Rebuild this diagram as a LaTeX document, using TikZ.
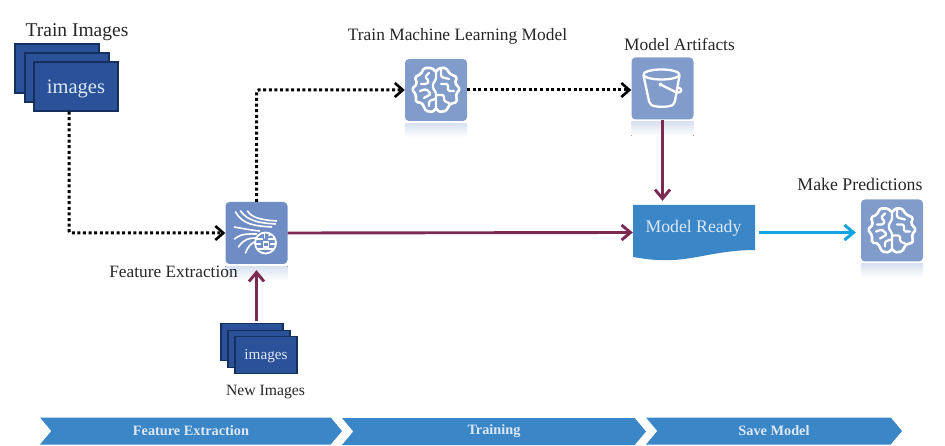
\documentclass[tikz,border=0pt]{standalone}
\usepackage{fontspec}
\setmainfont{Liberation Serif}
\usetikzlibrary{arrows.meta,shapes.symbols}

\definecolor{stackblue}{HTML}{2B5299}
\definecolor{stackedge}{HTML}{14305E}
\definecolor{iconblue}{HTML}{819CCB}
\definecolor{featblue}{HTML}{6F8DC4}
\definecolor{readyblue}{HTML}{3B86C6}
\definecolor{maroon}{HTML}{7B2A52}
\definecolor{skyline}{HTML}{12A4E0}
\definecolor{lighttext}{HTML}{DDE8F6}

\tikzset{
    stackbox/.style={draw=stackedge,fill=stackblue,line width=1.3pt,inner sep=0pt},
    iconbox/.style={fill=#1,rounded corners=4pt,minimum width=62pt,minimum height=62pt,inner sep=0pt},
    iconshade/.style={top color=iconblue!30!white,bottom color=white,draw=none},
    glyph/.style={draw=white,line width=2.3pt,line join=round,line cap=round},
    dotline/.style={line width=3pt,dash pattern=on 3pt off 2.6pt,-{Straight Barb[length=8pt,width=14pt,line width=2.6pt]}},
    redline/.style={maroon,line width=2.9pt,-{Straight Barb[length=9pt,width=15pt,line width=2.9pt]}},
    blueline/.style={skyline,line width=3pt,-{Straight Barb[length=9pt,width=15pt,line width=3pt]}},
    phase/.style={shape=signal,signal from=west,signal to=east,signal pointer angle=100,fill=readyblue,
        inner sep=0pt,minimum height=27pt,text=lighttext,font=\fontsize{14.3}{14}\selectfont\bfseries},
    title/.style={text=black!85,inner sep=0pt}
}

\newcommand{\brainglyph}{
    \draw[glyph,line width=2.6pt,rounded corners=1.5pt] (0,-18) -- (-4,-22) -- (-12,-22) -- (-15,-16) -- (-21,-13) -- (-19,-6)
        -- (-24,-1) -- (-20,5) -- (-20,12) -- (-14,13) -- (-10,21) -- (-3,22) -- (0,18) -- (3,22) -- (10,21)
        -- (14,14) -- (21,12) -- (20,4) -- (24,-1) -- (19,-7) -- (21,-13) -- (14,-16) -- (10,-22) -- (3,-22) -- cycle;
    \draw[glyph,rounded corners=1.5pt] (0,-18) -- (0,-10) -- (-3,-7) -- (-3,-1) -- (0,2) -- (0,18);
    \draw[glyph,rounded corners=1.5pt] (-7,-17) -- (-11,-13) -- (-7,-9) -- (-9,-6) -- (-15,-6);
    \draw[glyph,rounded corners=1.5pt] (-16,1) -- (-10,-1) -- (-5,4) -- (-12,8);
    \draw[glyph,rounded corners=1.5pt] (-7,16) -- (-7,11) -- (-1,9);
    \draw[glyph,rounded corners=1.5pt] (5,-21) -- (5,-13) -- (13,-11);
    \draw[glyph,rounded corners=1.5pt] (5,-6) -- (12,-6) -- (12,1) -- (18,1);
    \draw[glyph,rounded corners=1.5pt] (1,5) -- (8,5) -- (8,11) -- (13,13);
}

\begin{document}
\begin{tikzpicture}[x=1pt,y=-1pt]

\useasboundingbox (0,0) rectangle (945,446);

% image stacks
\node[stackbox,minimum width=84pt,minimum height=49pt] (trainback) at (57,68.5) {};
\node[stackbox,minimum width=84pt,minimum height=49pt] (trainmid) at (67,77.5) {};
\node[stackbox,minimum width=84pt,minimum height=49pt] (trainfront) at (76,86.5) {};
\node[text=lighttext,inner sep=0pt,font=\fontsize{20.5}{20}\selectfont] (trainimg) at (76,88.5) {images};
\node[title,font=\fontsize{19.5}{18}\selectfont] (trainlabel) at (77,32.5) {Train Images};

\node[stackbox,minimum width=62pt,minimum height=37pt] (newback) at (252,342) {};
\node[stackbox,minimum width=62pt,minimum height=37pt] (newmid) at (259,349) {};
\node[stackbox,minimum width=62pt,minimum height=37pt] (newfront) at (266,355) {};
\node[text=lighttext,inner sep=0pt,font=\fontsize{15.2}{14}\selectfont] (newimg) at (266,356.5) {images};
\node[title,font=\fontsize{15.7}{14}\selectfont] (newlabel) at (265.5,392.5) {New Images};

% icons
\node[iconbox=featblue] (featbox) at (256.5,233) {};
\node[iconbox=iconblue] (brainbox) at (436,90) {};
\node[iconbox=iconblue] (bucketbox) at (662.5,88.5) {};
\node[iconbox=iconblue] (predbox) at (892,230.5) {};

\foreach \ic in {featbox,brainbox,bucketbox,predbox}
    \fill[iconshade] ([yshift=-2pt]\ic.south west) rectangle ([yshift=-16pt]\ic.south east);

\begin{scope}[shift={(brainbox.center)}]
    \brainglyph
\end{scope}
\begin{scope}[shift={(predbox.center)}]
    \brainglyph
\end{scope}

\begin{scope}[shift={(bucketbox.center)}]
    \draw[glyph] (-1,-14) ellipse (18pt and 5pt);
    \draw[glyph,rounded corners=2pt] (-19,-13) -- (-13,15) .. controls (-8,19) and (7,19) .. (12,15) -- (17,-13);
    \fill[white] (-2,-4) circle (2pt);
    \draw[glyph] (-2,-4) -- (14,4) .. controls (20,5) and (20,0) .. (16,-1);
\end{scope}

\begin{scope}[shift={(featbox.center)}]
    \draw[glyph,line width=1.6pt] (-21,-21) .. controls (-14,-8) and (0,-7) .. (15,-6);
    \draw[glyph,line width=1.6pt] (-16,-22) .. controls (-8,-11) and (5,-10) .. (19,-9);
    \draw[glyph,line width=1.6pt] (-9,-22) .. controls (-4,-14) and (8,-13) .. (20,-12);
    \draw[glyph,line width=1.6pt] (-22,-6) .. controls (-12,-4) and (-5,-3) .. (3,-2);
    \draw[glyph,line width=1.6pt] (-22,6) .. controls (-15,0) and (-7,1) .. (0,1);
    \draw[glyph,line width=1.6pt] (-18,14) .. controls (-13,6) and (-7,5) .. (-1,5);
    \draw[glyph,line width=1.6pt] (-11,20) .. controls (-9,14) and (-5,10) .. (-2,9);
    \draw[glyph,line width=1.8pt] (9,10) circle (10.5pt);
    \draw[glyph,line width=1.4pt] (0,6) -- (6,6) (12,6) -- (18,6) (-1,11) -- (4,11) (14,11) -- (19,11) (2,16) -- (16,16) (8,0) -- (8,5);
    \draw[glyph,line width=1.4pt] (7,9) rectangle (12,14);
    \fill[white] (13,2) circle (1.5pt);
\end{scope}

% model ready block
\fill[readyblue] (633,205) -- (755,205) -- (755,250) .. controls (715,250) and (690,262) .. (660,260) .. controls (650,260) and (640,258) .. (633,257) -- cycle;
\node[inner sep=0pt,minimum width=122pt,minimum height=55pt] (ready) at (694,232.5) {};
\node[text=lighttext,inner sep=0pt,font=\fontsize{17.7}{15}\selectfont] (readylabel) at (693.5,228) {Model Ready};

% labels
\node[title,font=\fontsize{17.3}{16}\selectfont] (featlabel) at (173.5,271.5) {Feature Extraction};
\node[title,font=\fontsize{17.4}{16}\selectfont] (brainlabel) at (457.5,36.5) {Train Machine Learning Model};
\node[title,font=\fontsize{17.4}{15}\selectfont] (bucketlabel) at (679.5,44) {Model Artifacts};
\node[title,font=\fontsize{17.8}{15}\selectfont] (predlabel) at (860,184) {Make Predictions};

% connectors
\draw[dotline,rounded corners=2pt] ([xshift=-7pt]trainfront.south) |- (featbox.west);
\draw[dotline,rounded corners=2pt] (featbox.north) |- (brainbox.west);
\draw[dotline] (brainbox.east) -- (bucketbox.west |- brainbox.east);
\draw[redline] (bucketbox.south) -- ([yshift=4pt]bucketbox.south |- ready.north);
\draw[redline] (featbox.east) -- (ready.west);
\draw[redline] ([yshift=2pt]newback.north -| featbox.south) -- ([yshift=-6pt]featbox.south);
\draw[blueline] ([xshift=4pt]ready.east) -- ([xshift=-5pt]ready.east -| predbox.west);

% phases
\node[phase,minimum width=302pt] (phaseone) at (191,431) {\raisebox{-1pt}{Feature Extraction}};
\node[phase,minimum width=304pt] (phasetwo) at (494,431.5) {\raisebox{-2pt}{Training}};
\node[phase,minimum width=256pt] (phasethree) at (774,431) {\raisebox{-1pt}{Save Model}};

\end{tikzpicture}
\end{document}
